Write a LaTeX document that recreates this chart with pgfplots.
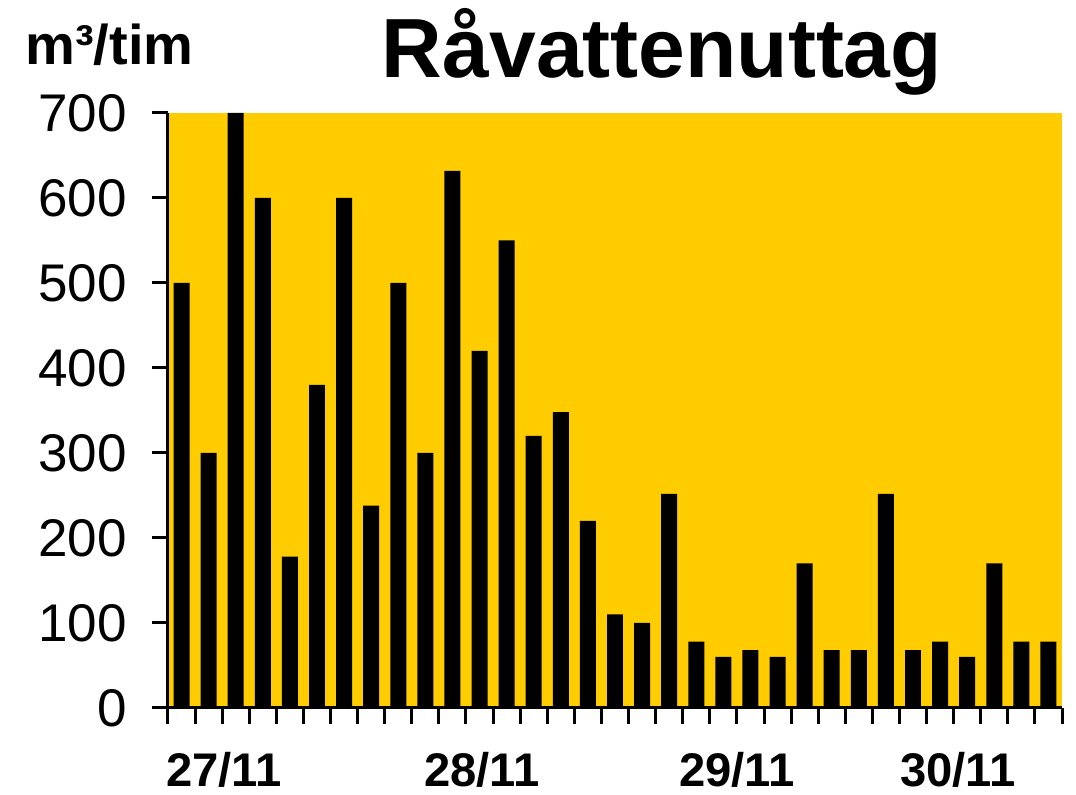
\documentclass[border=0pt]{standalone}
\usepackage{fontspec}
\setmainfont{Liberation Sans}
\usepackage{pgfplots}
\pgfplotsset{compat=1.18}
\definecolor{plotbg}{HTML}{FFCC00}
\begin{document}
\begin{tikzpicture}
\begin{axis}[
    scale only axis,
    width=447pt, height=297.5pt,
    xmin=-0.5, xmax=32.5,
    ymin=0, ymax=700,
    axis background/.style={fill=plotbg},
    axis x line=bottom, axis y line=left,
    axis line style={-, line width=1.5pt, black},
    xtick={-0.5,0.5,...,32.5},
    xticklabels={},
    ytick={0,100,...,700},
    tick align=outside,
    major tick length=8pt,
    tick style={line width=1.5pt, black},
    /pgf/number format/assume math mode=true,
    yticklabel style={font=\fontsize{26.5}{30}\selectfont, xshift=-9pt},
    clip=false,
]
\addplot[ybar, bar width=0.59, fill=black, draw=none] coordinates {
    (0,500) (1,300) (2,700) (3,600) (4,178) (5,380) (6,600) (7,238)
    (8,500) (9,300) (10,632) (11,420) (12,550) (13,320) (14,348) (15,220)
    (16,110) (17,100) (18,252) (19,78) (20,60) (21,68) (22,60) (23,170)
    (24,68) (25,68) (26,252) (27,68) (28,78) (29,60) (30,170) (31,78) (32,78)
};
% date labels
\node[anchor=base, font=\bfseries\fontsize{23.6}{26}\selectfont] at ([yshift=-39.5pt]axis cs:1.57,0) {27/11};
\node[anchor=base, font=\bfseries\fontsize{23.6}{26}\selectfont] at ([yshift=-39.5pt]axis cs:11.09,0) {28/11};
\node[anchor=base, font=\bfseries\fontsize{23.6}{26}\selectfont] at ([yshift=-39.5pt]axis cs:20.5,0) {29/11};
\node[anchor=base, font=\bfseries\fontsize{23.6}{26}\selectfont] at ([yshift=-39.5pt]axis cs:28.66,0) {30/11};
% title and unit
\node[anchor=base, font=\bfseries\fontsize{42}{46}\selectfont] at ([yshift=17.5pt]rel axis cs:0.5526,1) {Råvattenuttag};
\node[anchor=base west, inner sep=0pt, font=\bfseries\fontsize{28}{32}\selectfont] at ([xshift=-71.5pt, yshift=24pt]rel axis cs:0,1) {m³/tim};
\coordinate (ll) at (rel axis cs:0,0);
\coordinate (ur) at (rel axis cs:1,1);
\end{axis}
\path[use as bounding box] ([xshift=-84pt, yshift=-42pt]ll) rectangle ([xshift=7pt, yshift=56.5pt]ur);
\end{tikzpicture}
\end{document}
